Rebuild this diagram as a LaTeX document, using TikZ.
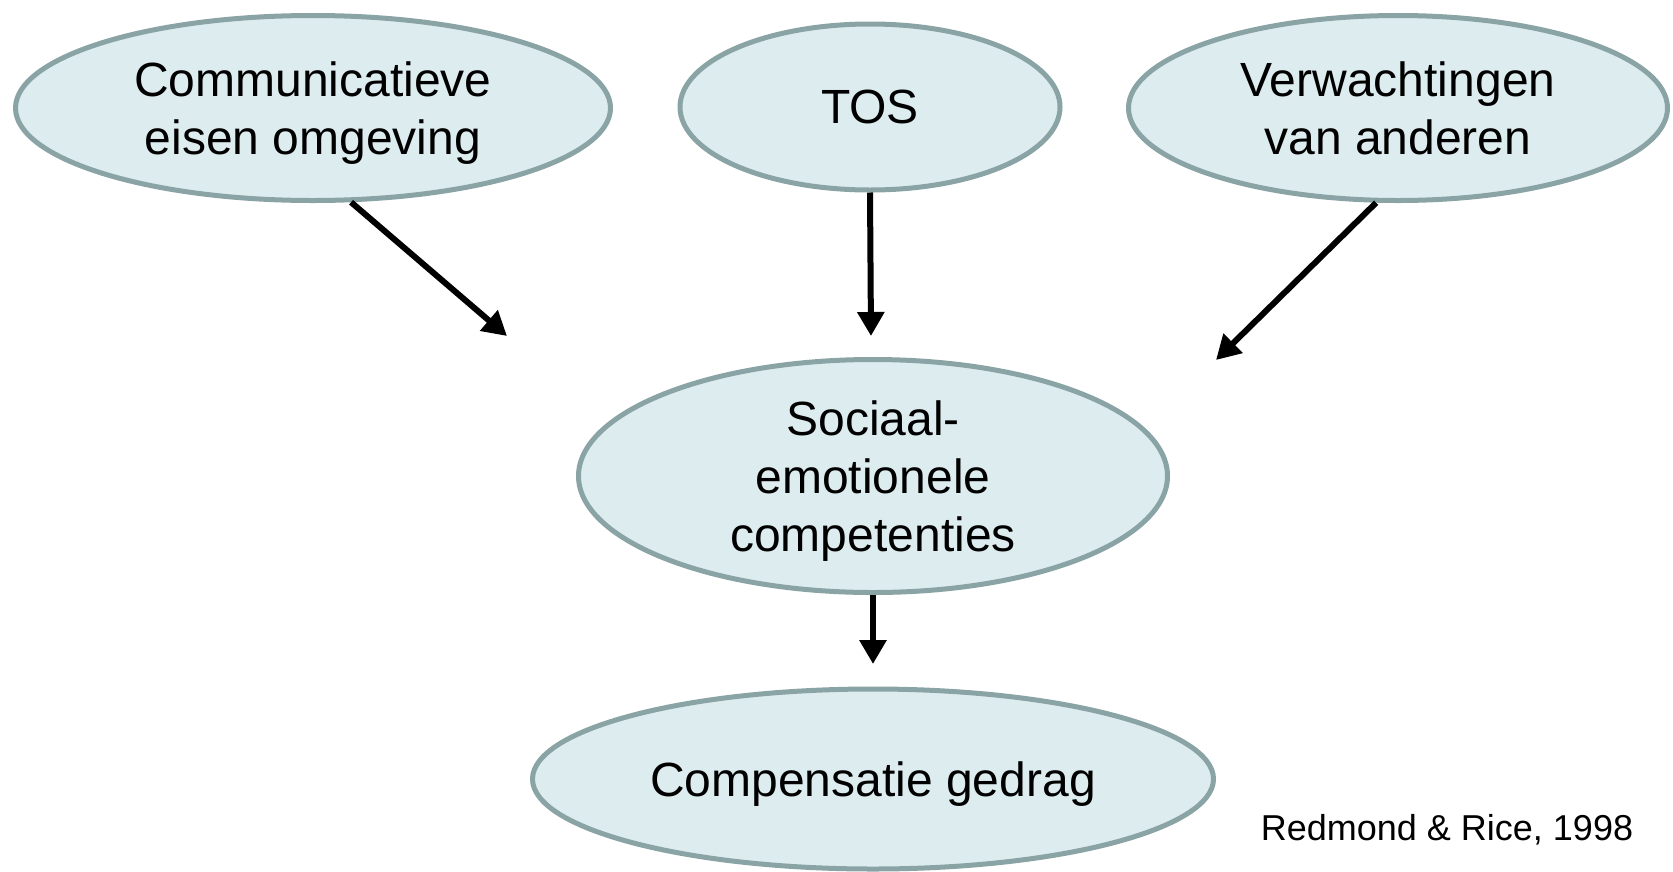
\documentclass[tikz,border=0pt]{standalone}
\usepackage{fontspec}
\setmainfont{Liberation Sans}
\usetikzlibrary{shapes.geometric,arrows.meta}

\definecolor{ovalfill}{HTML}{DDECEF}
\definecolor{ovaldraw}{HTML}{8AA3A5}

\begin{document}
\begin{tikzpicture}[x=1pt,y=-1pt,>={Triangle[length=24pt,width=26pt]},line width=6pt]
\tikzstyle{oval}=[ellipse,fill=ovalfill,draw=ovaldraw,line width=5pt,text=black,inner sep=0pt,text depth=0pt,align=center,font=\fontsize{48}{57.6}\selectfont]
\useasboundingbox (0,0) rectangle (1673,871);

\node[oval,minimum width=595pt,minimum height=185pt] (comm) at (313,108) {Communicatieve\\eisen omgeving};
\node[oval,minimum width=380pt,minimum height=166pt] (tos) at (870,107) {TOS};
\node[oval,minimum width=539pt,minimum height=185pt] (verw) at (1398,108) {Verwachtingen\\van anderen};
\node[oval,minimum width=589pt,minimum height=233pt] (soc) at (873,476) {Sociaal-\\emotionele\\competenties};
\node[oval,minimum width=681pt,minimum height=180pt] (comp) at (873,779) {Compensatie gedrag};
\node[font=\fontsize{36}{43}\selectfont] (bron) at (1447,830) {Redmond \& Rice, 1998};

\coordinate (p1) at (507,336);
\coordinate (p2) at (871,336);
\coordinate (p3) at (1216,360);
\coordinate (p4) at (873,664);

\draw[->] (comm.-68) -- (p1);
\draw[->] (tos.south) -- (p2);
\draw[->] (verw.-103) -- (p3);
\draw[->] (soc.south) -- (p4);
\end{tikzpicture}
\end{document}
